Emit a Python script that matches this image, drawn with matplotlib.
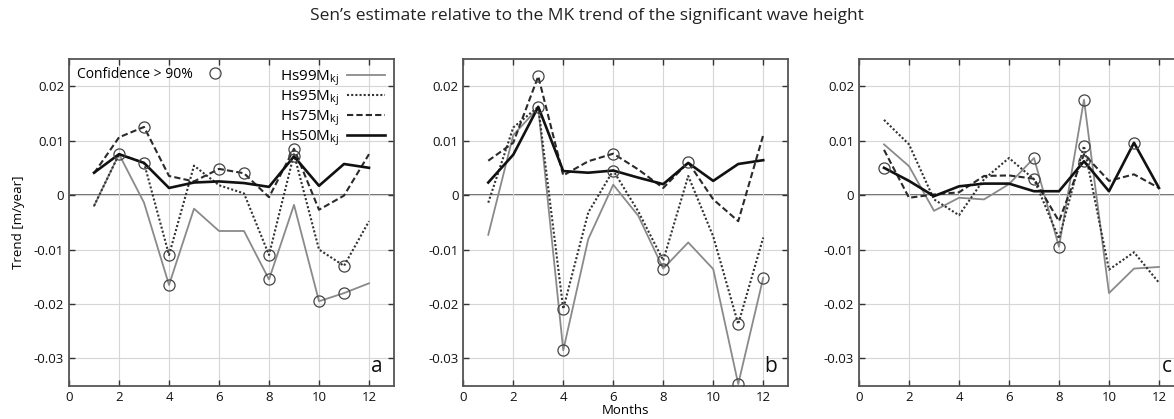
import matplotlib.pyplot as plt
import numpy as np

plt.rcParams['font.family'] = ['Open Sans', 'DejaVu Sans']
plt.rcParams['axes.unicode_minus'] = False

months = [1, 2, 3, 4, 5, 6, 7, 8, 9, 10, 11, 12]

# panel a
a_hs99 = [-0.002, 0.0075, -0.0014, -0.0165, -0.0025, -0.0066, -0.0066, -0.0155, -0.0018, -0.0195, -0.018, -0.0162]
a_hs95 = [-0.002, 0.0075, 0.0059, -0.011, 0.0054, 0.0018, 0.0003, -0.011, 0.0075, -0.010, -0.013, -0.0048]
a_hs75 = [0.004, 0.0106, 0.0125, 0.0035, 0.0025, 0.0048, 0.004, -0.0004, 0.0085, -0.0027, -0.0001, 0.0075]
a_hs50 = [0.0041, 0.0075, 0.0059, 0.0013, 0.0023, 0.0025, 0.0022, 0.0015, 0.0071, 0.0017, 0.0057, 0.005]
a_sig99 = [2, 4, 8, 10, 11]
a_sig95 = [3, 4, 8, 11]
a_sig75 = [3, 6, 7, 9]
a_sig50 = [9]

# panel b
b_hs99 = [-0.0073, 0.011, 0.016, -0.0285, -0.0081, 0.0019, -0.0038, -0.0135, -0.0087, -0.0136, -0.0347, -0.0152]
b_hs95 = [-0.0014, 0.0124, 0.0162, -0.0209, -0.0032, 0.0045, -0.003, -0.012, 0.0035, -0.0076, -0.0237, -0.0078]
b_hs75 = [0.0063, 0.0096, 0.0218, 0.0036, 0.0062, 0.0076, 0.0047, 0.0013, 0.006, -0.0008, -0.0048, 0.011]
b_hs50 = [0.0023, 0.0074, 0.0162, 0.0044, 0.0041, 0.0045, 0.0032, 0.002, 0.0059, 0.0026, 0.0057, 0.0064]
b_sig99 = [4, 8, 11, 12]
b_sig95 = [4, 6, 8, 11]
b_sig75 = [3, 6, 9]
b_sig50 = [3]

# panel c
c_hs99 = [0.0093, 0.0053, -0.0029, -0.0005, -0.0008, 0.002, 0.0068, -0.0095, 0.0175, -0.018, -0.0135, -0.0132]
c_hs95 = [0.0138, 0.0093, -0.0008, -0.0037, 0.0029, 0.0068, 0.0029, -0.008, 0.009, -0.0137, -0.0105, -0.0161]
c_hs75 = [0.0083, -0.0005, 0.0001, 0.0005, 0.0035, 0.0036, 0.003, -0.0048, 0.0075, 0.0026, 0.0038, 0.0013]
c_hs50 = [0.005, 0.0026, -0.0002, 0.0016, 0.0021, 0.0021, 0.0007, 0.0007, 0.0062, 0.0007, 0.0096, 0.0013]
c_sig99 = [7, 8, 9]
c_sig95 = [9]
c_sig75 = [7]
c_sig50 = [1, 9, 11]

panels = [
    ('a', [a_hs99, a_hs95, a_hs75, a_hs50], [a_sig99, a_sig95, a_sig75, a_sig50]),
    ('b', [b_hs99, b_hs95, b_hs75, b_hs50], [b_sig99, b_sig95, b_sig75, b_sig50]),
    ('c', [c_hs99, c_hs95, c_hs75, c_hs50], [c_sig99, c_sig95, c_sig75, c_sig50]),
]

names = ['Hs99M$_{\\mathregular{kj}}$', 'Hs95M$_{\\mathregular{kj}}$',
         'Hs75M$_{\\mathregular{kj}}$', 'Hs50M$_{\\mathregular{kj}}$']
styles = [dict(color='#8a8a8a', lw=1.3, ls='-'),
          dict(color='#333333', lw=1.5, ls=(0, (1, 1))),
          dict(color='#2a2a2a', lw=1.5, ls=(0, (3, 1.5))),
          dict(color='#111111', lw=1.9, ls='-')]

fig = plt.figure(figsize=(11.74, 4.19), dpi=100)
fig.text(0.5, 0.963, 'Sen\u2019s estimate relative to the MK trend of the significant wave height',
         ha='center', va='center', fontsize=12.5, color='#222222')

lefts = [0.0588, 0.3946, 0.7317]
for left, (letter, series, sigs) in zip(lefts, panels):
    ax = fig.add_axes([left, 0.0795, 0.2768, 0.78])
    ax.set_xlim(0, 13)
    ax.set_ylim(-0.035, 0.025)
    ax.set_xticks([0, 2, 4, 6, 8, 10, 12])
    ax.set_yticks([-0.03, -0.02, -0.01, 0, 0.01, 0.02])
    ax.set_yticklabels(['-0.03', '-0.02', '-0.01', '0', '0.01', '0.02'])
    ax.grid(True, color='#d6d6d6', lw=0.8, ls='-')
    ax.axhline(0, color='#555555', lw=1.2, zorder=1)
    ax.tick_params(direction='in', top=True, right=True, labelsize=9.5,
                   length=4, width=1, colors='#333333', labelcolor='#111111')
    for sp in ax.spines.values():
        sp.set_color('#555555')
        sp.set_linewidth(1.3)

    handles = []
    for vals, sig, name, st in zip(series, sigs, names, styles):
        h, = ax.plot(months, vals, label=name, zorder=3, **st)
        handles.append(h)
        sx = [m for m in sig]
        sy = [vals[m - 1] for m in sig]
        ax.plot(sx, sy, 'o', ms=8, mfc='none', mec='#444444', mew=0.9, zorder=4)

    ax.text(12.3, -0.0325, letter, fontsize=15, ha='center', va='baseline', color='#111111')

    if letter == 'a':
        ax.set_ylabel('Trend [m/year]', fontsize=9.5, labelpad=6)
        circ, = ax.plot([], [], 'o', ms=8, mfc='none', mec='#444444', mew=0.9)
        leg1 = ax.legend([circ], ['Confidence > 90%'], loc='upper left', frameon=False,
                         markerfirst=False, fontsize=10, handlelength=1.2,
                         borderaxespad=0.2, handletextpad=1.0)
        ax.add_artist(leg1)
        ax.legend(handles, names, loc='upper right', frameon=False, markerfirst=False,
                  fontsize=11, handlelength=2.5, labelspacing=0.0,
                  borderaxespad=0.2, handletextpad=0.5)
    if letter == 'b':
        ax.set_xlabel('Months', fontsize=9.5, labelpad=0)

fig.savefig('out.png', dpi=100)
